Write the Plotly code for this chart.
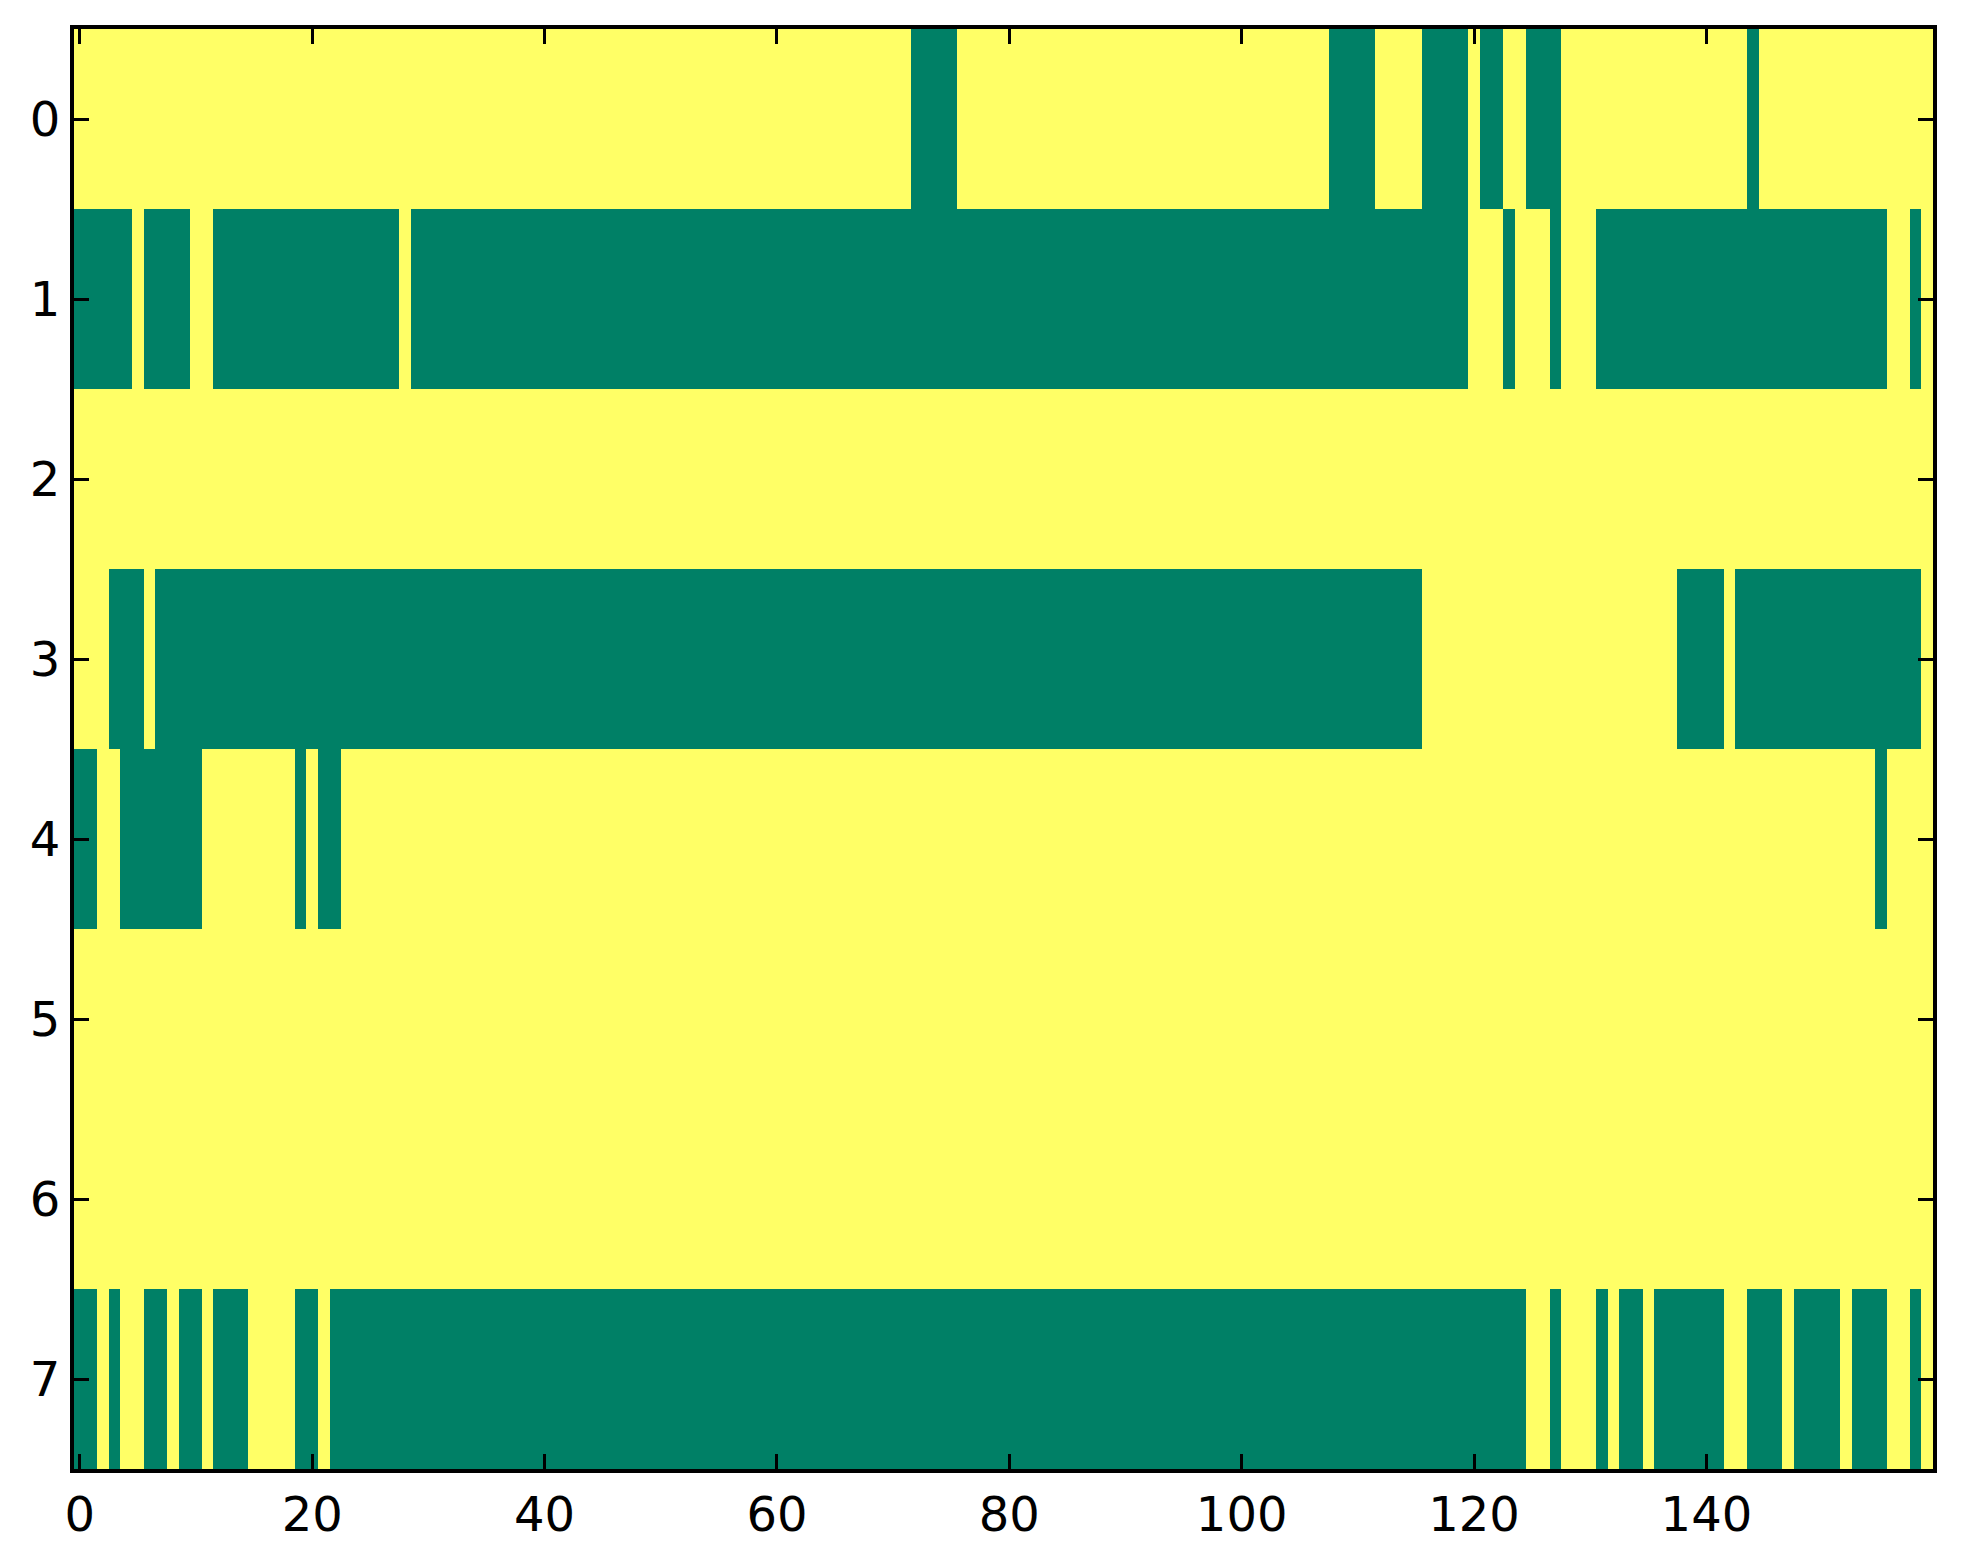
import numpy as np
import plotly.graph_objects as go

N_COLS = 160
ROWS = list(range(8))

# green (value 0) spans per row, inclusive column ranges; everything else is 1
row0_green = [(72, 75), (108, 111), (116, 119), (121, 122), (125, 127), (144, 144)]
row1_green = [(0, 4), (6, 9), (12, 27), (29, 119), (123, 123), (127, 127),
              (131, 155), (158, 158)]
row2_green = []
row3_green = [(3, 5), (7, 115), (138, 141), (143, 158)]
row4_green = [(0, 1), (4, 10), (19, 19), (21, 22), (155, 155)]
row5_green = []
row6_green = []
row7_green = [(0, 1), (3, 3), (6, 7), (9, 10), (12, 14), (19, 20), (22, 124),
              (127, 127), (131, 131), (133, 134), (136, 141), (144, 146),
              (148, 151), (153, 155), (158, 158)]

GREEN = 'rgb(0,128,102)'
YELLOW = 'rgb(255,255,102)'

spans = [row0_green, row1_green, row2_green, row3_green,
         row4_green, row5_green, row6_green, row7_green]
z = np.ones((len(ROWS), N_COLS))
for r, row in enumerate(spans):
    for a, b in row:
        z[r, a:b + 1] = 0

fig = go.Figure(go.Heatmap(
    z=z,
    x=list(range(N_COLS)),
    y=ROWS,
    zmin=0, zmax=1,
    colorscale=[[0, GREEN], [1, YELLOW]],
    showscale=False,
    hoverinfo='skip',
))

axis_style = dict(showline=True, linecolor='black', linewidth=4, mirror='allticks',
                  ticks='inside', ticklen=15, tickwidth=2.5, tickcolor='black',
                  showgrid=False, zeroline=False, automargin=False,
                  tickfont=dict(family='DejaVu Sans', size=48, color='black'))

fig.update_xaxes(range=[-0.5, N_COLS - 0.5], tickvals=list(range(0, 160, 20)), **axis_style)
fig.update_yaxes(range=[7.5, -0.5], tickvals=ROWS, **axis_style)

# page body adds ~8px offset, so size/margins are trimmed to compensate
fig.update_layout(width=1955, height=1556, plot_bgcolor='white', paper_bgcolor='white',
                  margin=dict(l=66, r=30, t=21, b=95))

fig.write_html("out.html")
